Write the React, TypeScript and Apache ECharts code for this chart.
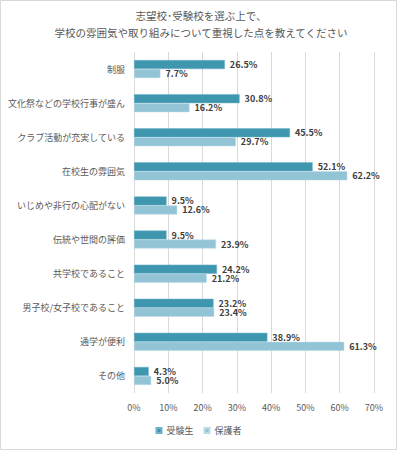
import React, { useEffect, useRef } from "react";
import * as echarts from "echarts";

const categories = [
  "制服",
  "文化祭などの学校行事が盛ん",
  "クラブ活動が充実している",
  "在校生の雰囲気",
  "いじめや非行の心配がない",
  "伝統や世間の評価",
  "共学校であること",
  "男子校/女子校であること",
  "通学が便利",
  "その他",
];
const students = [26.5, 30.8, 45.5, 52.1, 9.5, 9.5, 24.2, 23.2, 38.9, 4.3];
const parents = [7.7, 16.2, 29.7, 62.2, 12.6, 23.9, 21.2, 23.4, 61.3, 5.0];
const seriesNames = ["受験生", "保護者"];
const titleLines = ["志望校･受験校を選ぶ上で、", "学校の雰囲気や取り組みについて重視した点を教えてください"];

const FONT = "'Noto Sans CJK JP', 'Noto Sans', sans-serif";

export default function App() {
  const ref = useRef<HTMLDivElement>(null);
  useEffect(() => {
    document.body.style.margin = "0";
    const chart = echarts.init(ref.current!, null, { renderer: "svg" });
    const label = {
      show: true,
      position: "right",
      distance: 5,
      fontSize: 9,
      fontWeight: "bold",
      color: "#404040",
      fontFamily: FONT,
      formatter: (p: any) => p.value.toFixed(1) + "%",
    };
    chart.setOption({
      animation: false,
      textStyle: { fontFamily: FONT },
      graphic: [
        {
          type: "rect",
          shape: { x: 0.5, y: 0.5, width: 396, height: 449 },
          style: { fill: "none", stroke: "#d9d9d9", lineWidth: 1 },
          silent: true,
        },
        ...titleLines.map((t, i) => ({
          type: "text",
          x: 201,
          y: 15 + i * 17,
          style: {
            text: t,
            fontSize: 10.5,
            fill: "#595959",
            fontFamily: FONT,
            textAlign: "center",
            textVerticalAlign: "middle",
          },
          silent: true,
        })),
      ],
      legend: {
        bottom: 10,
        left: "center",
        itemWidth: 5,
        itemHeight: 5,
        itemGap: 10,
        icon: "rect",
        textStyle: { fontSize: 9, color: "#595959", fontFamily: FONT },
        data: seriesNames,
      },
      grid: { left: 134, right: 23, top: 52, bottom: 57, outerBoundsMode: "none" },
      xAxis: {
        type: "value",
        min: 0,
        max: 70,
        interval: 10,
        axisLabel: {
          formatter: "{value}%",
          fontSize: 9,
          color: "#595959",
          margin: 10,
        },
        axisLine: { show: false },
        axisTick: { show: false },
        splitLine: { lineStyle: { color: "#d9d9d9", width: 1 } },
      },
      yAxis: {
        type: "category",
        inverse: true,
        data: categories,
        axisLine: { show: false },
        axisTick: { show: false },
        axisLabel: { fontSize: 9, color: "#595959", margin: 9 },
      },
      series: [
        {
          name: seriesNames[0],
          type: "bar",
          data: students,
          barWidth: 9,
          barGap: "0%",
          itemStyle: { color: "#3F97AF", borderColor: "#6fb3c6", borderWidth: 0.5 },
          label,
        },
        {
          name: seriesNames[1],
          type: "bar",
          data: parents,
          barWidth: 9,
          itemStyle: { color: "#93C4D5", borderColor: "#b8dbe6", borderWidth: 0.5 },
          label,
        },
      ],
    });
    return () => chart.dispose();
  }, []);
  return <div ref={ref} style={{ width: 397, height: 450 }} />;
}
